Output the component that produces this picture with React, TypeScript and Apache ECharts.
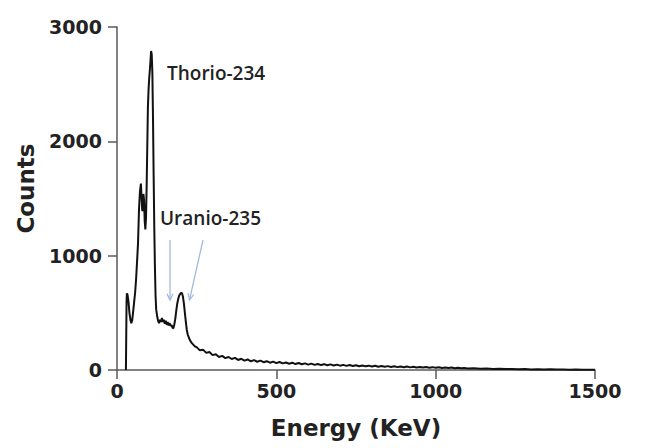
import React, { useEffect, useRef } from "react";
import * as echarts from "echarts";

// Energy (keV) and counts
const energy: number[] = [
  28, 29, 30, 31, 33, 36, 39, 42, 45, 48, 51, 54, 57, 60, 63, 66, 69, 72, 75, 77, 79, 81, 83, 85, 87, 89,
  91, 93, 95, 97, 99, 101, 103, 105, 107, 109, 111, 113, 115, 117, 119, 121, 123, 126, 129, 132, 135, 138,
  141, 144, 147, 150, 153, 156, 159, 162, 165, 168, 171, 174, 177, 180, 183, 186, 189, 192, 195, 198, 201,
  204, 207, 210, 213, 216, 219, 222, 226, 230, 235, 240, 245,
  250, 260, 270, 280, 290, 300, 310, 320, 330, 340, 350, 360, 370, 380, 390, 400, 410, 420, 430, 440, 450,
  460, 470, 480, 490, 500, 510, 520, 530, 540, 550, 560, 570, 580, 590, 600, 610, 620, 630, 640, 650, 660,
  670, 680, 690, 700, 710, 720, 730, 740, 750, 760, 770, 780, 790, 800, 810, 820, 830, 840, 850, 860, 870,
  880, 890, 900, 910, 920, 930, 940, 950, 960, 970, 980, 990, 1000, 1010, 1020, 1030, 1040, 1050, 1060,
  1070, 1080, 1090, 1100, 1120, 1140, 1160, 1180, 1200, 1220, 1240, 1260, 1280, 1300, 1320, 1340, 1360,
  1380, 1400, 1420, 1440, 1460, 1480, 1500,
];
const counts: number[] = [
  0, 300, 600, 670, 660, 600, 500, 440, 410, 440, 520, 600, 680, 800, 950, 1110, 1400, 1560, 1630, 1520,
  1400, 1390, 1540, 1480, 1300, 1230, 1330, 1600, 1950, 2300, 2450, 2550, 2620, 2700, 2790, 2760, 2600,
  2200, 1700, 1250, 900, 650, 530, 470, 430, 410, 440, 420, 455, 420, 440, 405, 430, 395, 420, 390, 410,
  385, 395, 370, 365, 400, 450, 520, 580, 620, 650, 665, 675, 672, 640, 580, 500, 420, 350, 310, 280, 255,
  235, 220, 205,
  200, 172, 178, 150, 158, 130, 138, 114, 124, 104, 114, 96, 106, 88, 98, 82, 92, 76, 86, 72, 82, 68, 77,
  64, 73, 60, 70, 58, 66, 55, 64, 52, 61, 50, 58, 47, 56, 45, 53, 43, 51, 41, 49, 40, 47, 38, 45, 36, 43,
  35, 42, 33, 40, 32, 38, 30, 37, 29, 35, 28, 34, 27, 32, 25, 31, 24, 30, 23, 28, 22, 27, 21, 26, 20, 25,
  19, 24, 18, 22, 17, 21, 16, 20, 15, 18, 14, 15, 11, 13, 9, 11, 8, 9, 6, 8, 5, 7, 5, 6, 4, 5, 3, 4, 3, 3, 2,
];
const xTicks = { min: 0, max: 1500, interval: 500 };
const yTicks = { min: 0, max: 3000, interval: 1000 };
const annotations = ["Thorio-234", "Uranio-235"];

export default function App() {
  const ref = useRef<HTMLDivElement>(null);
  useEffect(() => {
    if (!ref.current) return;
    const chart = echarts.init(ref.current, undefined, { renderer: "svg" });
    const axisColor = "#5a5a5a";
    const labelFont = {
      fontFamily: "DejaVu Sans",
      fontWeight: "bold" as const,
      fontSize: 19,
      color: "#222",
      formatter: (v: number) => String(v),
    };
    const arrowStyle = { stroke: "#9cb6dc", lineWidth: 1.2, fill: "none" };
    chart.setOption({
      animation: false,
      backgroundColor: "#fff",
      grid: { left: 117, right: 68, top: 27, bottom: 78, containLabel: false },
      xAxis: {
        type: "value",
        min: xTicks.min,
        max: xTicks.max,
        interval: xTicks.interval,
        name: "Energy (KeV)",
        nameLocation: "middle",
        nameGap: 46,
        nameTextStyle: { fontFamily: "DejaVu Sans", fontWeight: "bold", fontSize: 23, color: "#222" },
        axisLine: { lineStyle: { color: axisColor, width: 1.5 } },
        axisTick: { length: 9, lineStyle: { color: axisColor, width: 1.5 } },
        axisLabel: { ...labelFont, margin: 11 },
        splitLine: { show: false },
      },
      yAxis: {
        type: "value",
        min: yTicks.min,
        max: yTicks.max,
        interval: yTicks.interval,
        name: "Counts",
        nameLocation: "middle",
        nameGap: 80,
        nameTextStyle: {
          fontFamily: "DejaVu Sans",
          fontWeight: "bold",
          fontSize: 23,
          color: "#222",
          padding: [0, 0, 0, 20],
        },
        axisLine: { show: true, lineStyle: { color: axisColor, width: 1.5 } },
        axisTick: { show: true, length: 9, lineStyle: { color: axisColor, width: 1.5 } },
        axisLabel: { ...labelFont, margin: 15 },
        splitLine: { show: false },
      },
      series: [
        {
          type: "line",
          data: energy.map((e, i) => [e, counts[i]]),
          symbol: "none",
          lineStyle: { color: "#111", width: 2 },
        },
      ],
      graphic: [
        {
          type: "text",
          left: 167,
          top: 63,
          style: {
            text: annotations[0],
            fontFamily: "Open Sans",
            fontWeight: 600,
            fontSize: 19,
            fill: "#222",
          },
        },
        {
          type: "text",
          left: 160,
          top: 208,
          style: {
            text: annotations[1],
            fontFamily: "Open Sans",
            fontWeight: 600,
            fontSize: 19,
            fill: "#222",
          },
        },
        { type: "line", shape: { x1: 170, y1: 240, x2: 170, y2: 300 }, style: arrowStyle },
        {
          type: "polyline",
          shape: { points: [[167, 293.7], [170, 300], [173, 293.7]] },
          style: arrowStyle,
        },
        { type: "line", shape: { x1: 203, y1: 240, x2: 189.5, y2: 300 }, style: arrowStyle },
        {
          type: "polyline",
          shape: { points: [[193.8, 294.5], [189.5, 300], [188, 293.2]] },
          style: arrowStyle,
        },
      ],
    });
    return () => chart.dispose();
  }, []);
  return (
    <div
      ref={ref}
      style={{ position: "fixed", left: 0, top: 0, width: 663, height: 448, background: "#fff" }}
    />
  );
}
